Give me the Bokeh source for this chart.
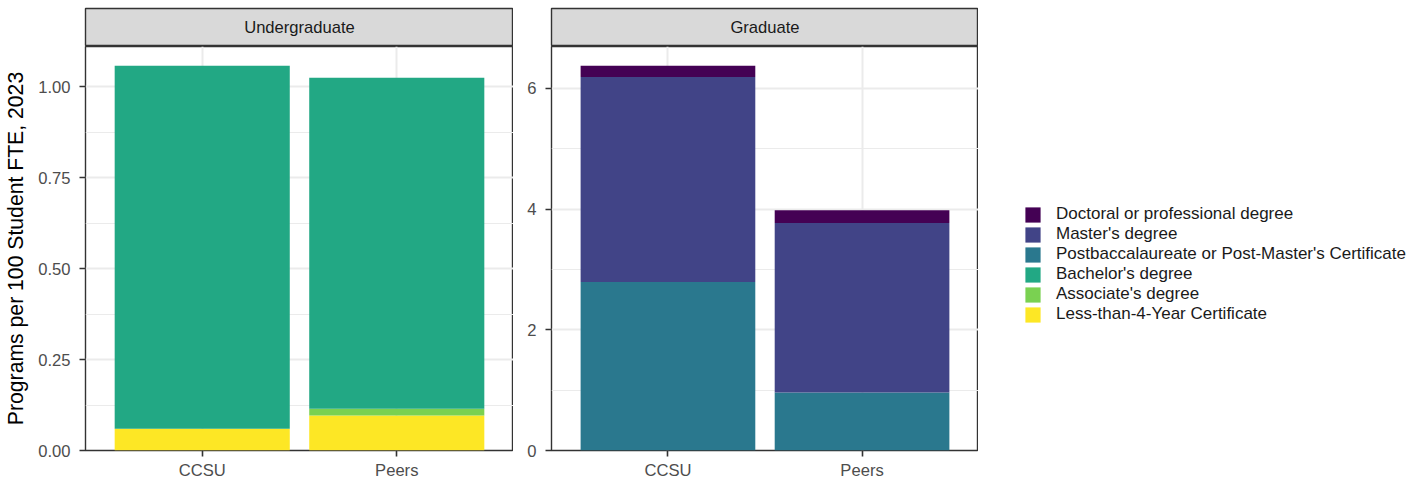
from bokeh.plotting import figure
from bokeh.layouts import row, column
from bokeh.models import Range1d, FixedTicker, Legend, LegendItem, Label, ColumnDataSource
from bokeh.embed import file_html
from bokeh.resources import INLINE

# ---------------- data ----------------
groups = ["CCSU", "Peers"]
panel_titles = ["Undergraduate", "Graduate"]
y_title = "Programs per 100 Student FTE, 2023"

# legend order (top to bottom)
levels = [
    "Doctoral or professional degree",
    "Master's degree",
    "Postbaccalaureate or Post-Master's Certificate",
    "Bachelor's degree",
    "Associate's degree",
    "Less-than-4-Year Certificate",
]
level_colors = ["#440154", "#414487", "#2A788E", "#22A884", "#7AD151", "#FDE725"]

# undergraduate (stacked bottom -> top)
ug_less = [0.060, 0.096]
ug_assoc = [0.000, 0.019]
ug_bach = [0.998, 0.910]

# graduate (stacked bottom -> top)
gr_postbacc = [2.79, 0.96]
gr_master = [3.40, 2.81]
gr_doct = [0.185, 0.21]

ug_ticks = [0, 0.25, 0.5, 0.75, 1.0]
ug_tick_labels = ["0.00", "0.25", "0.50", "0.75", "1.00"]
ug_minor = [0.125, 0.375, 0.625, 0.875]
gr_ticks = [0, 2, 4, 6]
gr_tick_labels = ["0", "2", "4", "6"]
gr_minor = [1, 3, 5]

FONT = "Liberation Sans"
TXT = "16.6px"
TOP = 8
STRIP_H = 38
FRAME_H = 404
BOTTOM = 29


def make_panel(title, names, values, cols, ticks, tick_labels, minor, left_border, frame_w, ylab=None):
    xs = [i + 1 for i in range(len(groups))]
    data = {"x": xs}
    for n, v in zip(names, values):
        data[n] = v
    src = ColumnDataSource(data)
    totals = [sum(t) for t in zip(*values)]
    ytop = max(totals) * 1.05

    p = figure(frame_width=frame_w, frame_height=FRAME_H,
               x_range=Range1d(0.4, len(groups) + 0.6), y_range=Range1d(0, ytop),
               min_border_left=left_border, min_border_right=0, min_border_top=0,
               min_border_bottom=BOTTOM,
               toolbar_location=None, output_backend="svg")
    p.vbar_stack(names, x="x", width=0.9, source=src, fill_color=cols, line_color=None)

    p.xaxis.ticker = FixedTicker(ticks=xs)
    p.xaxis.major_label_overrides = {x: g for x, g in zip(xs, groups)}
    p.yaxis.ticker = FixedTicker(ticks=ticks, minor_ticks=minor)
    p.yaxis.major_label_overrides = {t: l for t, l in zip(ticks, tick_labels)}
    p.xgrid.ticker = FixedTicker(ticks=xs)

    for ax in p.axis:
        ax.axis_line_color = None
        ax.major_tick_line_color = "#333333"
        ax.major_tick_line_width = 1.6
        ax.major_tick_in = 0
        ax.major_tick_out = 6
        ax.minor_tick_line_color = None
        ax.major_label_text_font = FONT
        ax.major_label_text_font_size = TXT
        ax.major_label_text_color = "#4d4d4d"
    p.xaxis.major_label_standoff = 4
    p.yaxis.major_label_standoff = 9

    p.grid.grid_line_color = "#ebebeb"
    p.grid.grid_line_width = 2
    p.ygrid.minor_grid_line_color = "#ebebeb"
    p.ygrid.minor_grid_line_width = 1
    p.outline_line_color = "#333333"
    p.outline_line_width = 1.4
    p.background_fill_color = "white"

    if ylab:
        p.yaxis.axis_label = ylab
        p.yaxis.axis_label_text_font = FONT
        p.yaxis.axis_label_text_font_size = "21.2px"
        p.yaxis.axis_label_text_font_style = "normal"
        p.yaxis.axis_label_text_color = "black"
        p.yaxis.axis_label_standoff = 8

    s = figure(frame_width=frame_w, frame_height=STRIP_H,
               x_range=Range1d(0, 1), y_range=Range1d(0, 1),
               x_axis_location=None, y_axis_location=None,
               min_border_left=left_border, min_border_right=0, min_border_top=TOP,
               min_border_bottom=0,
               toolbar_location=None, output_backend="svg")
    s.grid.visible = False
    s.background_fill_color = "#d9d9d9"
    s.outline_line_color = "#333333"
    s.outline_line_width = 1.4
    s.add_layout(Label(x=0.5, y=0.5, text=title, text_align="center", text_baseline="middle",
                       text_font=FONT, text_font_size=TXT, text_color="#1a1a1a"))
    return column(s, p, spacing=0), src


left, ug_src = make_panel(panel_titles[0],
                          ["less", "assoc", "bach"], [ug_less, ug_assoc, ug_bach],
                          [level_colors[5], level_colors[4], level_colors[3]],
                          ug_ticks, ug_tick_labels, ug_minor, 85, 428, ylab=y_title)
right, gr_src = make_panel(panel_titles[1],
                           ["postbacc", "master", "doct"], [gr_postbacc, gr_master, gr_doct],
                           [level_colors[2], level_colors[1], level_colors[0]],
                           gr_ticks, gr_tick_labels, gr_minor, 38, 427)

# legend figure (legend swatches come from hidden renderers on the same data)
LF_H = TOP + STRIP_H + FRAME_H + BOTTOM
lf = figure(width=430, height=LF_H,
            x_range=Range1d(0, 1), y_range=Range1d(0, 1),
            x_axis_location=None, y_axis_location=None,
            min_border_left=0, min_border_right=0, min_border_top=0, min_border_bottom=0,
            toolbar_location=None, output_backend="svg")
lf.grid.visible = False
lf.outline_line_color = None
legend_sources = [(gr_src, "doct"), (gr_src, "master"), (gr_src, "postbacc"),
                  (ug_src, "bach"), (ug_src, "assoc"), (ug_src, "less")]
items = []
for name, c, (src, col) in zip(levels, level_colors, legend_sources):
    r = lf.vbar(x="x", top=col, width=0.9, source=src, fill_color=c, line_color=None, visible=False)
    items.append(LegendItem(label=name, renderers=[r]))
leg = Legend(items=items, location=(45, LF_H - 324), orientation="vertical",
             glyph_width=19, glyph_height=19, label_height=19, spacing=0,
             label_standoff=14, padding=0, margin=0,
             border_line_color=None, background_fill_alpha=0,
             label_text_font=FONT, label_text_font_size="17px", label_text_color="#1a1a1a")
lf.add_layout(leg, "center")

layout = row(left, right, lf, spacing=0)
open("out.html", "w").write(file_html(layout, INLINE))
